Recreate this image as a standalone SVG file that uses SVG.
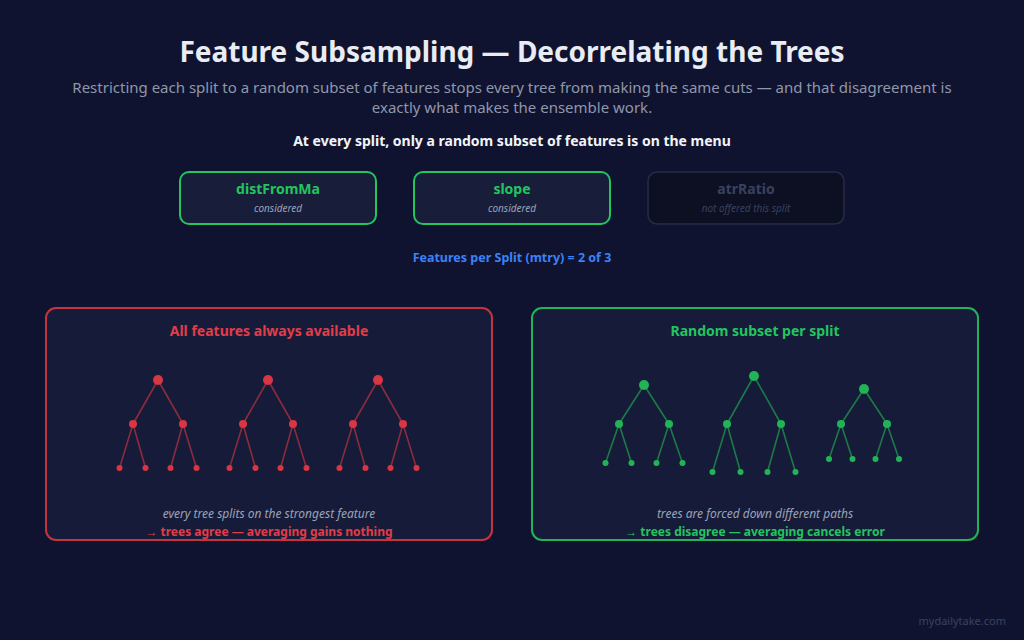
<svg xmlns="http://www.w3.org/2000/svg" width="1024" height="640" viewBox="0 0 1024 640">
<style>
text{font-family:"Noto Sans","Open Sans","Liberation Sans",sans-serif}
.title{font-size:28px;font-weight:700;fill:#e9ecf3}
.sub{font-size:15px;fill:#8f97ab}
.head{font-size:14px;font-weight:700;fill:#f2f4f8}
.fb{fill:#181d3a;stroke:#22c55e;stroke-width:2}
.fboff{fill:#0c1022;stroke:#262c45;stroke-width:1.5}
.fl{font-size:14px;font-weight:700;fill:#22c55e}
.floff{font-size:14px;font-weight:700;fill:#3a4160}
.fs{font-size:10px;font-style:italic;fill:#9aa3b8}
.fsoff{font-size:10px;font-style:italic;fill:#3a4160}
.mtry{font-size:12.5px;font-weight:700;fill:#3b82f6}
.panel{fill:#171b3a;stroke-width:2}
.pt{font-size:14px;font-weight:700}
.note{font-size:12px;font-style:italic;fill:#9aa3b8}
.res{font-size:12px;font-weight:700}
.re{stroke:#8a2c3b;stroke-width:1.6}
.ge{stroke:#1c7a46;stroke-width:1.6}
.rn{fill:#d93644}
.gn{fill:#22b357}
</style>
<rect width="1024" height="640" fill="#10132f"/>
<text class="title" x="512" y="62" text-anchor="middle">Feature Subsampling — Decorrelating the Trees</text>
<text class="sub" x="512" y="93" text-anchor="middle">Restricting each split to a random subset of features stops every tree from making the same cuts — and that disagreement is</text>
<text class="sub" x="512" y="113" text-anchor="middle">exactly what makes the ensemble work.</text>
<text class="head" x="512" y="146" text-anchor="middle">At every split, only a random subset of features is on the menu</text>

<g id="feat-distFromMa">
<rect class="fb" x="180" y="172" width="196" height="52" rx="9"/>
<text class="fl" x="278" y="194" text-anchor="middle">distFromMa</text>
<text class="fs" x="278" y="212" text-anchor="middle">considered</text>
</g>
<g id="feat-slope">
<rect class="fb" x="414" y="172" width="196" height="52" rx="9"/>
<text class="fl" x="512" y="194" text-anchor="middle">slope</text>
<text class="fs" x="512" y="212" text-anchor="middle">considered</text>
</g>
<g id="feat-atrRatio">
<rect class="fboff" x="648" y="172" width="196" height="52" rx="9"/>
<text class="floff" x="746" y="194" text-anchor="middle">atrRatio</text>
<text class="fsoff" x="746" y="212" text-anchor="middle">not offered this split</text>
</g>
<text class="mtry" x="512" y="262" text-anchor="middle">Features per Split (mtry) = 2 of 3</text>

<g id="panel-all">
<rect class="panel" x="46" y="308" width="446" height="232" rx="10" stroke="#c4343f"/>
<text class="pt" x="269" y="336" text-anchor="middle" fill="#e23d48">All features always available</text>
<text class="note" x="269" y="518" text-anchor="middle">every tree splits on the strongest feature</text>
<text class="res" x="269" y="536" text-anchor="middle" fill="#e23d48">→ trees agree — averaging gains nothing</text>
</g>
<g id="panel-random">
<rect class="panel" x="532" y="308" width="446" height="232" rx="10" stroke="#22b357"/>
<text class="pt" x="755" y="336" text-anchor="middle" fill="#22c55e">Random subset per split</text>
<text class="note" x="755" y="518" text-anchor="middle">trees are forced down different paths</text>
<text class="res" x="755" y="536" text-anchor="middle" fill="#22c55e">→ trees disagree — averaging cancels error</text>
</g>

<g id="connectors">
<g class="re">
<path d="M158 380L133 424M158 380L183 424M133 424L119.5 468M133 424L145.5 468M183 424L170.5 468M183 424L196.5 468"/>
<path d="M268 380L243 424M268 380L293 424M243 424L229.5 468M243 424L255.5 468M293 424L280.5 468M293 424L306.5 468"/>
<path d="M378 380L353 424M378 380L403 424M353 424L339.5 468M353 424L365.5 468M403 424L390.5 468M403 424L416.5 468"/>
</g>
<g class="ge">
<path d="M644 385L619 424M644 385L669 424M619 424L605.5 463M619 424L631.5 463M669 424L656.5 463M669 424L682.5 463"/>
<path d="M754 376L727 424M754 376L781 424M727 424L712.5 472M727 424L740.5 472M781 424L767.5 472M781 424L795.5 472"/>
<path d="M864 389L841 424M864 389L887 424M841 424L829 459M841 424L852.5 459M887 424L875.5 459M887 424L899 459"/>
</g>
</g>

<g id="trees-red" class="rn">
<circle cx="158" cy="380" r="5"/><circle cx="133" cy="424" r="4"/><circle cx="183" cy="424" r="4"/>
<circle cx="119.5" cy="468" r="3"/><circle cx="145.5" cy="468" r="3"/><circle cx="170.5" cy="468" r="3"/><circle cx="196.5" cy="468" r="3"/>
<circle cx="268" cy="380" r="5"/><circle cx="243" cy="424" r="4"/><circle cx="293" cy="424" r="4"/>
<circle cx="229.5" cy="468" r="3"/><circle cx="255.5" cy="468" r="3"/><circle cx="280.5" cy="468" r="3"/><circle cx="306.5" cy="468" r="3"/>
<circle cx="378" cy="380" r="5"/><circle cx="353" cy="424" r="4"/><circle cx="403" cy="424" r="4"/>
<circle cx="339.5" cy="468" r="3"/><circle cx="365.5" cy="468" r="3"/><circle cx="390.5" cy="468" r="3"/><circle cx="416.5" cy="468" r="3"/>
</g>
<g id="trees-green" class="gn">
<circle cx="644" cy="385" r="5"/><circle cx="619" cy="424" r="4"/><circle cx="669" cy="424" r="4"/>
<circle cx="605.5" cy="463" r="3"/><circle cx="631.5" cy="463" r="3"/><circle cx="656.5" cy="463" r="3"/><circle cx="682.5" cy="463" r="3"/>
<circle cx="754" cy="376" r="5"/><circle cx="727" cy="424" r="4"/><circle cx="781" cy="424" r="4"/>
<circle cx="712.5" cy="472" r="3"/><circle cx="740.5" cy="472" r="3"/><circle cx="767.5" cy="472" r="3"/><circle cx="795.5" cy="472" r="3"/>
<circle cx="864" cy="389" r="5"/><circle cx="841" cy="424" r="4"/><circle cx="887" cy="424" r="4"/>
<circle cx="829" cy="459" r="3"/><circle cx="852.5" cy="459" r="3"/><circle cx="875.5" cy="459" r="3"/><circle cx="899" cy="459" r="3"/>
</g>
<text x="1006" y="625" text-anchor="end" font-size="11" fill="#3b4262">mydailytake.com</text>
</svg>
